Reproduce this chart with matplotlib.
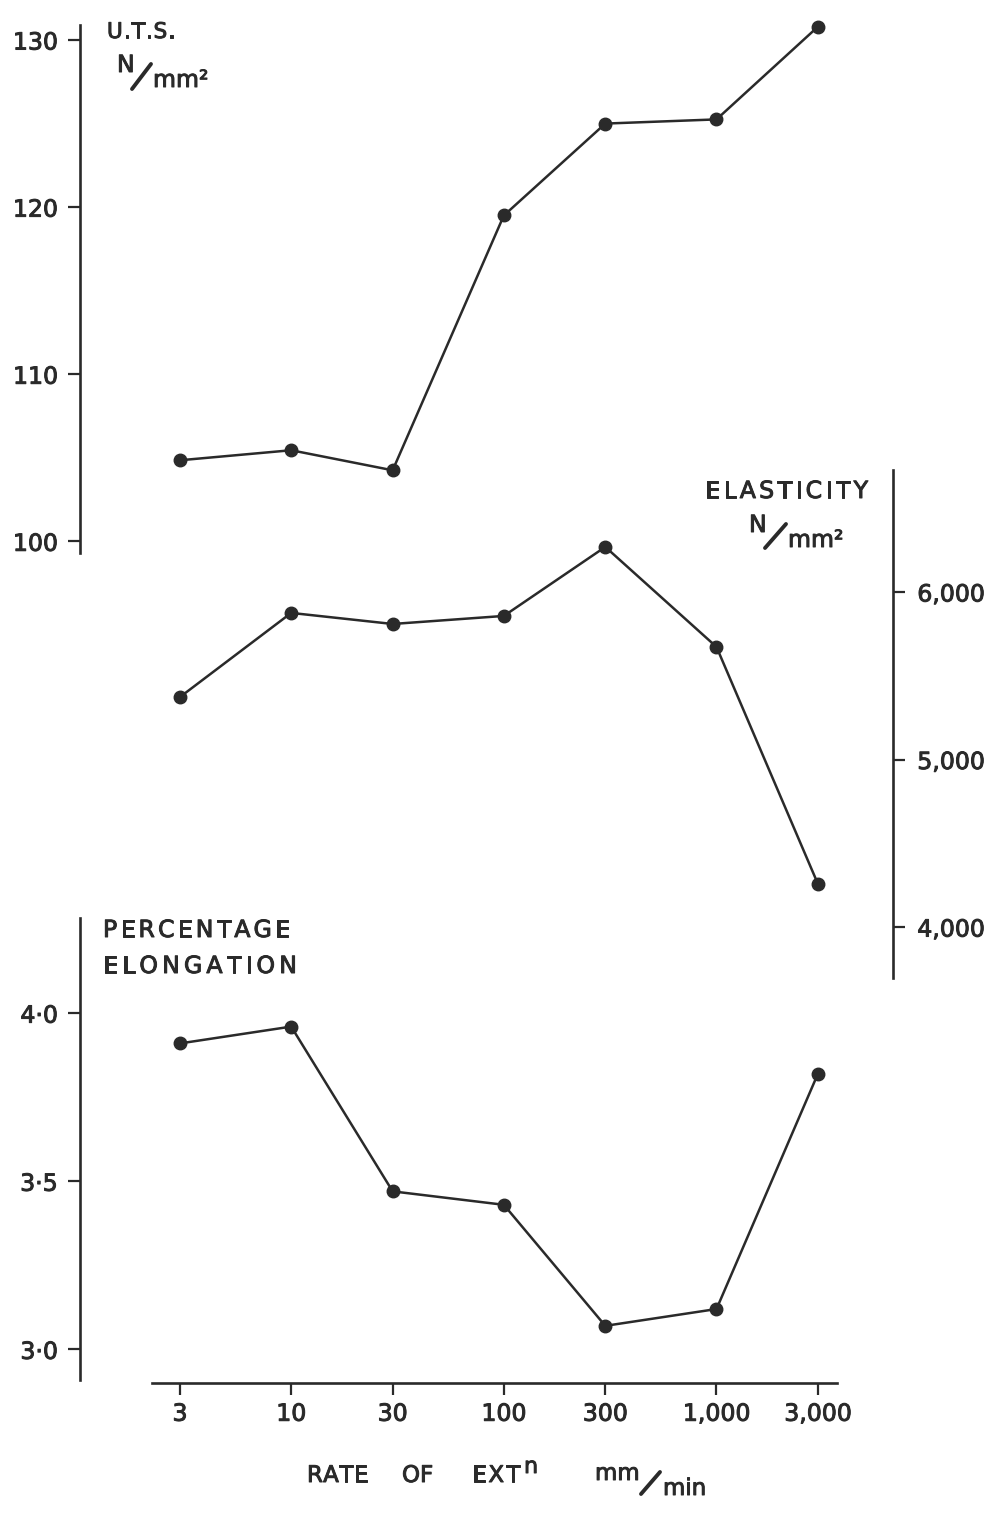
import matplotlib
matplotlib.use("Agg")
import matplotlib.pyplot as plt
import matplotlib.patheffects as pe
from matplotlib.lines import Line2D
from matplotlib.text import Text

# Rate of extension (mm/min) and measured properties
rates = [3, 10, 30, 100, 300, 1000, 3000]
rate_labels = ["3", "10", "30", "100", "300", "1,000", "3,000"]
uts = [104.85, 105.45, 104.25, 119.5, 125.0, 125.25, 130.8]
elasticity = [5373, 5875, 5809, 5857, 6269, 5672, 4257]
elongation = [3.91, 3.96, 3.47, 3.43, 3.07, 3.12, 3.82]

uts_ticks = [100, 110, 120, 130]
uts_ticklabels = ["100", "110", "120", "130"]
el_ticks = [4000, 5000, 6000]
el_ticklabels = ["4,000", "5,000", "6,000"]
elong_ticks = [3.0, 3.5, 4.0]
elong_ticklabels = ["3·0", "3·5", "4·0"]

W, H = 990, 1513
INK = "#2a2a2a"
plt.rcParams["font.family"] = ["DejaVu Sans"]

fig = plt.figure(figsize=(W / 100, H / 100), dpi=100)
fig.patch.set_facecolor("white")
renderer = fig.canvas.get_renderer()


def fx(px):
    return px / W


def fy(py):
    return 1 - py / H


def make_axes(top, bottom):
    ax = fig.add_axes([fx(80), fy(bottom), fx(893) - fx(80), fy(top) - fy(bottom)])
    ax.patch.set_visible(False)
    ax.set_xscale("log")
    ax.set_xlim(1.016, 6761)
    for s in ax.spines.values():
        s.set_visible(False)
    ax.tick_params(axis="x", which="both", bottom=False, top=False,
                   labelbottom=False)
    ax.tick_params(axis="y", which="minor", left=False, right=False)
    return ax


def style_spine(ax, side):
    sp = ax.spines[side]
    sp.set_visible(True)
    sp.set_linewidth(1.9)
    sp.set_color(INK)


def draw_series(ax, y):
    ax.plot(rates, y, color=INK, lw=1.8, marker="o", ms=9,
            markerfacecolor=INK, markeredgecolor=INK, clip_on=False, zorder=3)


tick_kw = dict(length=8.5, width=1.6, color=INK, labelsize=17,
               labelcolor=INK)

# U.T.S. panel
ax1 = make_axes(25, 553)
ax1.set_ylim(99.3, 130.9)
style_spine(ax1, "left")
ax1.set_yticks(uts_ticks)
ax1.set_yticklabels(uts_ticklabels)
ax1.tick_params(axis="y", which="major", direction="out", pad=7.5, **tick_kw)
draw_series(ax1, uts)

# Elasticity panel
ax2 = make_axes(470, 978)
ax2.set_ylim(3696, 6728)
style_spine(ax2, "right")
ax2.yaxis.tick_right()
ax2.set_yticks(el_ticks)
ax2.set_yticklabels(el_ticklabels)
ax2.tick_params(axis="y", which="major", direction="out", left=False,
                right=True, labelleft=False, labelright=True, pad=9,
                **tick_kw)
draw_series(ax2, elasticity)

# Percentage elongation panel with the shared rate axis
ax3 = make_axes(918, 1383)
ax3.set_ylim(2.9, 4.283)
style_spine(ax3, "left")
ax3.spines["left"].set_bounds(2.91, 4.283)
style_spine(ax3, "bottom")
ax3.spines["bottom"].set_bounds(2.22, 3683)
ax3.set_yticks(elong_ticks)
ax3.set_yticklabels(elong_ticklabels)
ax3.tick_params(axis="y", which="major", direction="out", pad=7.5, **tick_kw)
ax3.set_xticks(rates)
ax3.set_xticklabels(rate_labels)
ax3.tick_params(axis="x", which="major", bottom=True, labelbottom=True,
                direction="out", length=8.5, width=1.6, color=INK,
                labelsize=17, labelcolor=INK, pad=5)
ax3.tick_params(axis="x", which="minor", bottom=False)
draw_series(ax3, elongation)


def spaced(x0, x1, baseline, s, size):
    """Draw capitals spread evenly so the word runs from x0 to x1 (pixels)."""
    items = []
    total = 0.0
    for ch in s:
        t = fig.text(0, fy(baseline), ch, fontsize=size, color=INK,
                     ha="left", va="baseline")
        w = t.get_window_extent(renderer).width
        items.append((t, w))
        total += w
    gap = (x1 - x0 - total) / max(len(s) - 1, 1)
    x = x0
    for t, w in items:
        t.set_x(fx(x))
        x += w + gap


def slash(p0, p1, lw=2.8):
    fig.add_artist(Line2D([fx(p0[0]), fx(p1[0])], [fy(p0[1]), fy(p1[1])],
                          transform=fig.transFigure, color=INK, lw=lw,
                          solid_capstyle="round"))


def unit_label(nx, nbase, sl0, sl1, mx, mbase, size=17):
    """Draw an 'N/mm²' unit with a raised N and lowered mm²."""
    fig.text(fx(nx), fy(nbase), "N", fontsize=size, color=INK,
             ha="left", va="baseline")
    slash(sl0, sl1)
    fig.text(fx(mx), fy(mbase), "mm²", fontsize=size, color=INK,
             ha="left", va="baseline")


# Axis titles
spaced(107, 175, 38, "U.T.S.", 15.5)
unit_label(117, 72, (132, 89), (151, 64), 153, 87)

spaced(705, 868, 498, "ELASTICITY", 17)
unit_label(749, 532, (765, 548), (786, 524), 788, 547)

spaced(103, 290, 937, "PERCENTAGE", 17)
spaced(103, 297, 973, "ELONGATION", 17)

spaced(307, 368, 1482, "RATE", 16.5)
fig.text(fx(402), fy(1482), "OF", fontsize=16.5, color=INK,
         ha="left", va="baseline")
spaced(472, 520, 1482, "EXT", 16.5)
fig.text(fx(524), fy(1473), "n", fontsize=16, color=INK,
         ha="left", va="baseline")
fig.text(fx(595), fy(1480), "mm", fontsize=16.5, color=INK,
         ha="left", va="baseline")
slash((641, 1494), (660, 1472))
fig.text(fx(663), fy(1495), "min", fontsize=16.5, color=INK,
         ha="left", va="baseline")

# Slightly heavier lettering, like typewriter-stencil print
for t in fig.findobj(Text):
    t.set_path_effects([pe.withStroke(linewidth=0.7, foreground=INK)])

fig.savefig("out.png", dpi=100, facecolor="white")
